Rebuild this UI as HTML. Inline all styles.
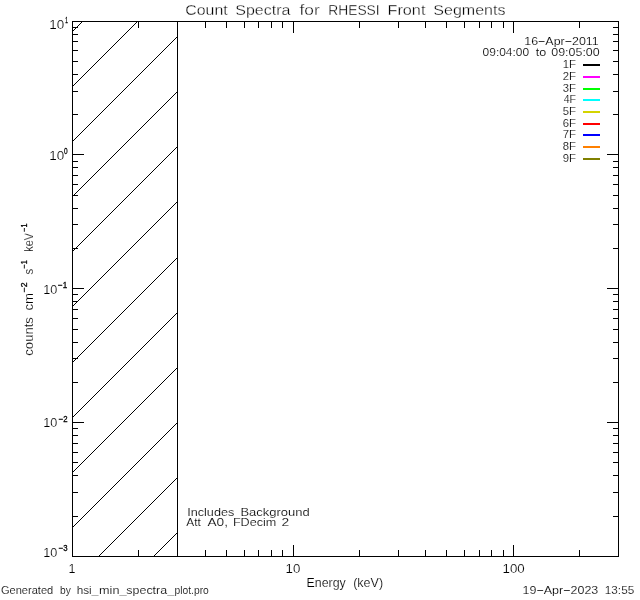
<!DOCTYPE html>
<html lang="en"><head><meta charset="utf-8"><title>Count Spectra for RHESSI Front Segments</title>
<style>
html,body{margin:0;padding:0;background:#fff;}
body{width:640px;height:600px;overflow:hidden;}
svg{display:block;}
text{font-family:"Liberation Sans","DejaVu Sans",sans-serif;fill:#000;white-space:pre;}
.t0{font-size:15.4px;}
.t1{font-size:12.6px;}
.t2{font-size:11.2px;}
.sup{font-size:8.4px;stroke:#000;stroke-width:0.3px;}
.t0{stroke:#fff;stroke-width:0.33px;}
.t1{stroke:#fff;stroke-width:0.18px;}
.t2{stroke:#fff;stroke-width:0.15px;}
.ln{stroke:#000;stroke-width:1;fill:none;shape-rendering:crispEdges;}
</style></head><body>
<svg width="640" height="600" viewBox="0 0 640 600">
<rect x="0" y="0" width="640" height="600" fill="#fff"/>
<path id="hatch" class="ln" d="M73 30.5h1m0 -1h1m0 -1h1m0 -1h1m0 -1h1m0 -1h1m0 -1h1m0 -1h1m0 -1h1M73 85.5h1m0 -1h1m0 -1h1m0 -1h1m0 -1h1m0 -1h1m0 -1h1m0 -1h1m0 -1h1m0 -1h1m0 -1h1m0 -1h1m0 -1h1m0 -1h1m0 -1h1m0 -1h1m0 -1h1m0 -1h1m0 -1h1m0 -1h1m0 -1h1m0 -1h1m0 -1h1m0 -1h1m0 -1h1m0 -1h1m0 -1h1m0 -1h1m0 -1h1m0 -1h1m0 -1h1m0 -1h1m0 -1h1m0 -1h1m0 -1h1m0 -1h1m0 -1h1m0 -1h1m0 -1h1m0 -1h1m0 -1h1m0 -1h1m0 -1h1m0 -1h1m0 -1h1m0 -1h1m0 -1h1m0 -1h1m0 -1h1m0 -1h1m0 -1h1m0 -1h1m0 -1h1m0 -1h1m0 -1h1m0 -1h1m0 -1h1m0 -1h1m0 -1h1m0 -1h1m0 -1h1m0 -1h1m0 -1h1m0 -1h1M73 140.5h1m0 -1h1m0 -1h1m0 -1h1m0 -1h1m0 -1h1m0 -1h1m0 -1h1m0 -1h1m0 -1h1m0 -1h1m0 -1h1m0 -1h1m0 -1h1m0 -1h1m0 -1h1m0 -1h1m0 -1h1m0 -1h1m0 -1h1m0 -1h1m0 -1h1m0 -1h1m0 -1h1m0 -1h1m0 -1h1m0 -1h1m0 -1h1m0 -1h1m0 -1h1m0 -1h1m0 -1h1m0 -1h1m0 -1h1m0 -1h1m0 -1h1m0 -1h1m0 -1h1m0 -1h1m0 -1h1m0 -1h1m0 -1h1m0 -1h1m0 -1h1m0 -1h1m0 -1h1m0 -1h1m0 -1h1m0 -1h1m0 -1h1m0 -1h1m0 -1h1m0 -1h1m0 -1h1m0 -1h1m0 -1h1m0 -1h1m0 -1h1m0 -1h1m0 -1h1m0 -1h1m0 -1h1m0 -1h1m0 -1h1m0 -1h1m0 -1h1m0 -1h1m0 -1h1m0 -1h1m0 -1h1m0 -1h1m0 -1h1m0 -1h1m0 -1h1m0 -1h1m0 -1h1m0 -1h1m0 -1h1m0 -1h1m0 -1h1m0 -1h1m0 -1h1m0 -1h1m0 -1h1m0 -1h1m0 -1h1m0 -1h1m0 -1h1m0 -1h1m0 -1h1m0 -1h1m0 -1h1m0 -1h1m0 -1h1m0 -1h1m0 -1h1m0 -1h1m0 -1h1m0 -1h1m0 -1h1m0 -1h1m0 -1h1m0 -1h1m0 -1h1M73 195.5h1m0 -1h1m0 -1h1m0 -1h1m0 -1h1m0 -1h1m0 -1h1m0 -1h1m0 -1h1m0 -1h1m0 -1h1m0 -1h1m0 -1h1m0 -1h1m0 -1h1m0 -1h1m0 -1h1m0 -1h1m0 -1h1m0 -1h1m0 -1h1m0 -1h1m0 -1h1m0 -1h1m0 -1h1m0 -1h1m0 -1h1m0 -1h1m0 -1h1m0 -1h1m0 -1h1m0 -1h1m0 -1h1m0 -1h1m0 -1h1m0 -1h1m0 -1h1m0 -1h1m0 -1h1m0 -1h1m0 -1h1m0 -1h1m0 -1h1m0 -1h1m0 -1h1m0 -1h1m0 -1h1m0 -1h1m0 -1h1m0 -1h1m0 -1h1m0 -1h1m0 -1h1m0 -1h1m0 -1h1m0 -1h1m0 -1h1m0 -1h1m0 -1h1m0 -1h1m0 -1h1m0 -1h1m0 -1h1m0 -1h1m0 -1h1m0 -1h1m0 -1h1m0 -1h1m0 -1h1m0 -1h1m0 -1h1m0 -1h1m0 -1h1m0 -1h1m0 -1h1m0 -1h1m0 -1h1m0 -1h1m0 -1h1m0 -1h1m0 -1h1m0 -1h1m0 -1h1m0 -1h1m0 -1h1m0 -1h1m0 -1h1m0 -1h1m0 -1h1m0 -1h1m0 -1h1m0 -1h1m0 -1h1m0 -1h1m0 -1h1m0 -1h1m0 -1h1m0 -1h1m0 -1h1m0 -1h1m0 -1h1m0 -1h1m0 -1h1m0 -1h1M73 250.5h1m0 -1h1m0 -1h1m0 -1h1m0 -1h1m0 -1h1m0 -1h1m0 -1h1m0 -1h1m0 -1h1m0 -1h1m0 -1h1m0 -1h1m0 -1h1m0 -1h1m0 -1h1m0 -1h1m0 -1h1m0 -1h1m0 -1h1m0 -1h1m0 -1h1m0 -1h1m0 -1h1m0 -1h1m0 -1h1m0 -1h1m0 -1h1m0 -1h1m0 -1h1m0 -1h1m0 -1h1m0 -1h1m0 -1h1m0 -1h1m0 -1h1m0 -1h1m0 -1h1m0 -1h1m0 -1h1m0 -1h1m0 -1h1m0 -1h1m0 -1h1m0 -1h1m0 -1h1m0 -1h1m0 -1h1m0 -1h1m0 -1h1m0 -1h1m0 -1h1m0 -1h1m0 -1h1m0 -1h1m0 -1h1m0 -1h1m0 -1h1m0 -1h1m0 -1h1m0 -1h1m0 -1h1m0 -1h1m0 -1h1m0 -1h1m0 -1h1m0 -1h1m0 -1h1m0 -1h1m0 -1h1m0 -1h1m0 -1h1m0 -1h1m0 -1h1m0 -1h1m0 -1h1m0 -1h1m0 -1h1m0 -1h1m0 -1h1m0 -1h1m0 -1h1m0 -1h1m0 -1h1m0 -1h1m0 -1h1m0 -1h1m0 -1h1m0 -1h1m0 -1h1m0 -1h1m0 -1h1m0 -1h1m0 -1h1m0 -1h1m0 -1h1m0 -1h1m0 -1h1m0 -1h1m0 -1h1m0 -1h1m0 -1h1m0 -1h1m0 -1h1M73 305.5h1m0 -1h1m0 -1h1m0 -1h1m0 -1h1m0 -1h1m0 -1h1m0 -1h1m0 -1h1m0 -1h1m0 -1h1m0 -1h1m0 -1h1m0 -1h1m0 -1h1m0 -1h1m0 -1h1m0 -1h1m0 -1h1m0 -1h1m0 -1h1m0 -1h1m0 -1h1m0 -1h1m0 -1h1m0 -1h1m0 -1h1m0 -1h1m0 -1h1m0 -1h1m0 -1h1m0 -1h1m0 -1h1m0 -1h1m0 -1h1m0 -1h1m0 -1h1m0 -1h1m0 -1h1m0 -1h1m0 -1h1m0 -1h1m0 -1h1m0 -1h1m0 -1h1m0 -1h1m0 -1h1m0 -1h1m0 -1h1m0 -1h1m0 -1h1m0 -1h1m0 -1h1m0 -1h1m0 -1h1m0 -1h1m0 -1h1m0 -1h1m0 -1h1m0 -1h1m0 -1h1m0 -1h1m0 -1h1m0 -1h1m0 -1h1m0 -1h1m0 -1h1m0 -1h1m0 -1h1m0 -1h1m0 -1h1m0 -1h1m0 -1h1m0 -1h1m0 -1h1m0 -1h1m0 -1h1m0 -1h1m0 -1h1m0 -1h1m0 -1h1m0 -1h1m0 -1h1m0 -1h1m0 -1h1m0 -1h1m0 -1h1m0 -1h1m0 -1h1m0 -1h1m0 -1h1m0 -1h1m0 -1h1m0 -1h1m0 -1h1m0 -1h1m0 -1h1m0 -1h1m0 -1h1m0 -1h1m0 -1h1m0 -1h1m0 -1h1m0 -1h1M73 361.5h1m0 -1h1m0 -1h1m0 -1h1m0 -1h1m0 -1h1m0 -1h1m0 -1h1m0 -1h1m0 -1h1m0 -1h1m0 -1h1m0 -1h1m0 -1h1m0 -1h1m0 -1h1m0 -1h1m0 -1h1m0 -1h1m0 -1h1m0 -1h1m0 -1h1m0 -1h1m0 -1h1m0 -1h1m0 -1h1m0 -1h1m0 -1h1m0 -1h1m0 -1h1m0 -1h1m0 -1h1m0 -1h1m0 -1h1m0 -1h1m0 -1h1m0 -1h1m0 -1h1m0 -1h1m0 -1h1m0 -1h1m0 -1h1m0 -1h1m0 -1h1m0 -1h1m0 -1h1m0 -1h1m0 -1h1m0 -1h1m0 -1h1m0 -1h1m0 -1h1m0 -1h1m0 -1h1m0 -1h1m0 -1h1m0 -1h1m0 -1h1m0 -1h1m0 -1h1m0 -1h1m0 -1h1m0 -1h1m0 -1h1m0 -1h1m0 -1h1m0 -1h1m0 -1h1m0 -1h1m0 -1h1m0 -1h1m0 -1h1m0 -1h1m0 -1h1m0 -1h1m0 -1h1m0 -1h1m0 -1h1m0 -1h1m0 -1h1m0 -1h1m0 -1h1m0 -1h1m0 -1h1m0 -1h1m0 -1h1m0 -1h1m0 -1h1m0 -1h1m0 -1h1m0 -1h1m0 -1h1m0 -1h1m0 -1h1m0 -1h1m0 -1h1m0 -1h1m0 -1h1m0 -1h1m0 -1h1m0 -1h1m0 -1h1m0 -1h1m0 -1h1M73 416.5h1m0 -1h1m0 -1h1m0 -1h1m0 -1h1m0 -1h1m0 -1h1m0 -1h1m0 -1h1m0 -1h1m0 -1h1m0 -1h1m0 -1h1m0 -1h1m0 -1h1m0 -1h1m0 -1h1m0 -1h1m0 -1h1m0 -1h1m0 -1h1m0 -1h1m0 -1h1m0 -1h1m0 -1h1m0 -1h1m0 -1h1m0 -1h1m0 -1h1m0 -1h1m0 -1h1m0 -1h1m0 -1h1m0 -1h1m0 -1h1m0 -1h1m0 -1h1m0 -1h1m0 -1h1m0 -1h1m0 -1h1m0 -1h1m0 -1h1m0 -1h1m0 -1h1m0 -1h1m0 -1h1m0 -1h1m0 -1h1m0 -1h1m0 -1h1m0 -1h1m0 -1h1m0 -1h1m0 -1h1m0 -1h1m0 -1h1m0 -1h1m0 -1h1m0 -1h1m0 -1h1m0 -1h1m0 -1h1m0 -1h1m0 -1h1m0 -1h1m0 -1h1m0 -1h1m0 -1h1m0 -1h1m0 -1h1m0 -1h1m0 -1h1m0 -1h1m0 -1h1m0 -1h1m0 -1h1m0 -1h1m0 -1h1m0 -1h1m0 -1h1m0 -1h1m0 -1h1m0 -1h1m0 -1h1m0 -1h1m0 -1h1m0 -1h1m0 -1h1m0 -1h1m0 -1h1m0 -1h1m0 -1h1m0 -1h1m0 -1h1m0 -1h1m0 -1h1m0 -1h1m0 -1h1m0 -1h1m0 -1h1m0 -1h1m0 -1h1m0 -1h1M73 471.5h1m0 -1h1m0 -1h1m0 -1h1m0 -1h1m0 -1h1m0 -1h1m0 -1h1m0 -1h1m0 -1h1m0 -1h1m0 -1h1m0 -1h1m0 -1h1m0 -1h1m0 -1h1m0 -1h1m0 -1h1m0 -1h1m0 -1h1m0 -1h1m0 -1h1m0 -1h1m0 -1h1m0 -1h1m0 -1h1m0 -1h1m0 -1h1m0 -1h1m0 -1h1m0 -1h1m0 -1h1m0 -1h1m0 -1h1m0 -1h1m0 -1h1m0 -1h1m0 -1h1m0 -1h1m0 -1h1m0 -1h1m0 -1h1m0 -1h1m0 -1h1m0 -1h1m0 -1h1m0 -1h1m0 -1h1m0 -1h1m0 -1h1m0 -1h1m0 -1h1m0 -1h1m0 -1h1m0 -1h1m0 -1h1m0 -1h1m0 -1h1m0 -1h1m0 -1h1m0 -1h1m0 -1h1m0 -1h1m0 -1h1m0 -1h1m0 -1h1m0 -1h1m0 -1h1m0 -1h1m0 -1h1m0 -1h1m0 -1h1m0 -1h1m0 -1h1m0 -1h1m0 -1h1m0 -1h1m0 -1h1m0 -1h1m0 -1h1m0 -1h1m0 -1h1m0 -1h1m0 -1h1m0 -1h1m0 -1h1m0 -1h1m0 -1h1m0 -1h1m0 -1h1m0 -1h1m0 -1h1m0 -1h1m0 -1h1m0 -1h1m0 -1h1m0 -1h1m0 -1h1m0 -1h1m0 -1h1m0 -1h1m0 -1h1m0 -1h1m0 -1h1M73 526.5h1m0 -1h1m0 -1h1m0 -1h1m0 -1h1m0 -1h1m0 -1h1m0 -1h1m0 -1h1m0 -1h1m0 -1h1m0 -1h1m0 -1h1m0 -1h1m0 -1h1m0 -1h1m0 -1h1m0 -1h1m0 -1h1m0 -1h1m0 -1h1m0 -1h1m0 -1h1m0 -1h1m0 -1h1m0 -1h1m0 -1h1m0 -1h1m0 -1h1m0 -1h1m0 -1h1m0 -1h1m0 -1h1m0 -1h1m0 -1h1m0 -1h1m0 -1h1m0 -1h1m0 -1h1m0 -1h1m0 -1h1m0 -1h1m0 -1h1m0 -1h1m0 -1h1m0 -1h1m0 -1h1m0 -1h1m0 -1h1m0 -1h1m0 -1h1m0 -1h1m0 -1h1m0 -1h1m0 -1h1m0 -1h1m0 -1h1m0 -1h1m0 -1h1m0 -1h1m0 -1h1m0 -1h1m0 -1h1m0 -1h1m0 -1h1m0 -1h1m0 -1h1m0 -1h1m0 -1h1m0 -1h1m0 -1h1m0 -1h1m0 -1h1m0 -1h1m0 -1h1m0 -1h1m0 -1h1m0 -1h1m0 -1h1m0 -1h1m0 -1h1m0 -1h1m0 -1h1m0 -1h1m0 -1h1m0 -1h1m0 -1h1m0 -1h1m0 -1h1m0 -1h1m0 -1h1m0 -1h1m0 -1h1m0 -1h1m0 -1h1m0 -1h1m0 -1h1m0 -1h1m0 -1h1m0 -1h1m0 -1h1m0 -1h1m0 -1h1m0 -1h1M99 555.5h1m0 -1h1m0 -1h1m0 -1h1m0 -1h1m0 -1h1m0 -1h1m0 -1h1m0 -1h1m0 -1h1m0 -1h1m0 -1h1m0 -1h1m0 -1h1m0 -1h1m0 -1h1m0 -1h1m0 -1h1m0 -1h1m0 -1h1m0 -1h1m0 -1h1m0 -1h1m0 -1h1m0 -1h1m0 -1h1m0 -1h1m0 -1h1m0 -1h1m0 -1h1m0 -1h1m0 -1h1m0 -1h1m0 -1h1m0 -1h1m0 -1h1m0 -1h1m0 -1h1m0 -1h1m0 -1h1m0 -1h1m0 -1h1m0 -1h1m0 -1h1m0 -1h1m0 -1h1m0 -1h1m0 -1h1m0 -1h1m0 -1h1m0 -1h1m0 -1h1m0 -1h1m0 -1h1m0 -1h1m0 -1h1m0 -1h1m0 -1h1m0 -1h1m0 -1h1m0 -1h1m0 -1h1m0 -1h1m0 -1h1m0 -1h1m0 -1h1m0 -1h1m0 -1h1m0 -1h1m0 -1h1m0 -1h1m0 -1h1m0 -1h1m0 -1h1m0 -1h1m0 -1h1m0 -1h1m0 -1h1M154 555.5h1m0 -1h1m0 -1h1m0 -1h1m0 -1h1m0 -1h1m0 -1h1m0 -1h1m0 -1h1m0 -1h1m0 -1h1m0 -1h1m0 -1h1m0 -1h1m0 -1h1m0 -1h1m0 -1h1m0 -1h1m0 -1h1m0 -1h1m0 -1h1m0 -1h1m0 -1h1"/>
<path id="axes" class="ln" d="M72.5 21.5H618.5V556.5H72.5ZM177.5 21.5V556.5M138.5 556V550M138.5 22V28M177.5 556V550M177.5 22V28M205.5 556V550M205.5 22V28M226.5 556V550M226.5 22V28M244.5 556V550M244.5 22V28M258.5 556V550M258.5 22V28M271.5 556V550M271.5 22V28M282.5 556V550M282.5 22V28M293.5 556V545M293.5 22V33M359.5 556V550M359.5 22V28M398.5 556V550M398.5 22V28M425.5 556V550M425.5 22V28M446.5 556V550M446.5 22V28M464.5 556V550M464.5 22V28M479.5 556V550M479.5 22V28M491.5 556V550M491.5 22V28M503.5 556V550M503.5 22V28M513.5 556V545M513.5 22V33M579.5 556V550M579.5 22V28M618.5 556V550M618.5 22V28M73 516.5H78M618 516.5H613M73 492.5H78M618 492.5H613M73 475.5H78M618 475.5H613M73 462.5H78M618 462.5H613M73 452.5H78M618 452.5H613M73 443.5H78M618 443.5H613M73 435.5H78M618 435.5H613M73 428.5H78M618 428.5H613M73 422.5H84M618 422.5H607M73 382.5H78M618 382.5H613M73 358.5H78M618 358.5H613M73 342.5H78M618 342.5H613M73 329.5H78M618 329.5H613M73 318.5H78M618 318.5H613M73 309.5H78M618 309.5H613M73 301.5H78M618 301.5H613M73 294.5H78M618 294.5H613M73 288.5H84M618 288.5H607M73 248.5H78M618 248.5H613M73 224.5H78M618 224.5H613M73 208.5H78M618 208.5H613M73 195.5H78M618 195.5H613M73 184.5H78M618 184.5H613M73 175.5H78M618 175.5H613M73 167.5H78M618 167.5H613M73 161.5H78M618 161.5H613M73 154.5H84M618 154.5H607M73 114.5H78M618 114.5H613M73 91.5H78M618 91.5H613M73 74.5H78M618 74.5H613M73 61.5H78M618 61.5H613M73 50.5H78M618 50.5H613M73 41.5H78M618 41.5H613M73 34.5H78M618 34.5H613M73 27.5H78M618 27.5H613"/>
<g id="txt" style="filter:grayscale(1)">
<text id="ti" class="t0"><tspan id="ti0" class="t0" x="185.30" y="15" textLength="42.40" lengthAdjust="spacingAndGlyphs">Count</tspan> <tspan id="ti1" class="t0" x="235.30" y="15" textLength="55.10" lengthAdjust="spacingAndGlyphs">Spectra</tspan> <tspan id="ti2" class="t0" x="299.50" y="15" textLength="20.20" lengthAdjust="spacingAndGlyphs">for</tspan> <tspan id="ti3" class="t0" x="328.30" y="15" textLength="51.30" lengthAdjust="spacingAndGlyphs">RHESSI</tspan> <tspan id="ti4" class="t0" x="387.50" y="15" textLength="37.90" lengthAdjust="spacingAndGlyphs">Front</tspan> <tspan id="ti5" class="t0" x="433.30" y="15" textLength="72.20" lengthAdjust="spacingAndGlyphs">Segments</tspan></text>
<text id="y1" class="t1"><tspan id="y1a" class="t1" x="49.30" y="29" textLength="14.90" lengthAdjust="spacingAndGlyphs">10</tspan><tspan id="y1b" class="sup" x="65.30" y="23" textLength="2.60" lengthAdjust="spacingAndGlyphs">1</tspan></text>
<text id="y0" class="t1"><tspan id="y0a" class="t1" x="49.30" y="160" textLength="14.90" lengthAdjust="spacingAndGlyphs">10</tspan><tspan id="y0b" class="sup" x="64.10" y="154" textLength="3.60" lengthAdjust="spacingAndGlyphs">0</tspan></text>
<text id="ym1" class="t1"><tspan id="ym1a" class="t1" x="43.30" y="294" textLength="14.10" lengthAdjust="spacingAndGlyphs">10</tspan><tspan id="ym1b" class="sup" x="58.10" y="288" textLength="9.20" lengthAdjust="spacingAndGlyphs">−1</tspan></text>
<text id="ym2" class="t1"><tspan id="ym2a" class="t1" x="43.30" y="427" textLength="14.10" lengthAdjust="spacingAndGlyphs">10</tspan><tspan id="ym2b" class="sup" x="58.80" y="422" textLength="8.90" lengthAdjust="spacingAndGlyphs">−2</tspan></text>
<text id="ym3" class="t1"><tspan id="ym3a" class="t1" x="43.30" y="557" textLength="14.10" lengthAdjust="spacingAndGlyphs">10</tspan><tspan id="ym3b" class="sup" x="58.80" y="551.3" textLength="8.90" lengthAdjust="spacingAndGlyphs">−3</tspan></text>
<text id="x1" class="t1" x="71.90" y="573" text-anchor="middle">1</text>
<text id="x10" class="t1" x="285.60" y="573" textLength="14.80" lengthAdjust="spacingAndGlyphs">10</text>
<text id="x100" class="t1" x="502.50" y="573" textLength="22.20" lengthAdjust="spacingAndGlyphs">100</text>
<text id="xt" class="t1"><tspan id="xt0" class="t1" x="306.50" y="587" textLength="39.20" lengthAdjust="spacingAndGlyphs">Energy</tspan> <tspan id="xt1" class="t1" x="353.20" y="587" textLength="29.90" lengthAdjust="spacingAndGlyphs">(keV)</tspan></text>
<text id="d1" aria-label="16-Apr-2011" class="t2" x="524.30" y="45" textLength="74.40" lengthAdjust="spacingAndGlyphs">16−Apr−2011</text>
<text id="d2" class="t2"><tspan id="d20" class="t2" x="482.60" y="56.3" textLength="46.50" lengthAdjust="spacingAndGlyphs">09:04:00</tspan> <tspan id="d21" class="t2" x="535.70" y="56.3" textLength="10.50" lengthAdjust="spacingAndGlyphs">to</tspan> <tspan id="d22" class="t2" x="551.30" y="56.3" textLength="48.40" lengthAdjust="spacingAndGlyphs">09:05:00</tspan></text>
<text id="l1" class="t2" x="562.80" y="68" textLength="13.20" lengthAdjust="spacingAndGlyphs">1F</text>
<text id="l2" class="t2" x="562.80" y="80" textLength="13.20" lengthAdjust="spacingAndGlyphs">2F</text>
<text id="l3" class="t2" x="562.80" y="91.7" textLength="13.20" lengthAdjust="spacingAndGlyphs">3F</text>
<text id="l4" class="t2" x="563.80" y="102.7" textLength="12.20" lengthAdjust="spacingAndGlyphs">4F</text>
<text id="l5" class="t2" x="562.80" y="115" textLength="13.20" lengthAdjust="spacingAndGlyphs">5F</text>
<text id="l6" class="t2" x="562.80" y="126.6" textLength="13.20" lengthAdjust="spacingAndGlyphs">6F</text>
<text id="l7" class="t2" x="562.80" y="138" textLength="13.20" lengthAdjust="spacingAndGlyphs">7F</text>
<text id="l8" class="t2" x="562.80" y="149.6" textLength="13.20" lengthAdjust="spacingAndGlyphs">8F</text>
<text id="l9" class="t2" x="562.80" y="161.5" textLength="13.20" lengthAdjust="spacingAndGlyphs">9F</text>
<text id="a1" class="t2"><tspan id="a10" class="t2" x="187.20" y="515.5" textLength="47.10" lengthAdjust="spacingAndGlyphs">Includes</tspan> <tspan id="a11" class="t2" x="240.40" y="515.5" textLength="69.40" lengthAdjust="spacingAndGlyphs">Background</tspan></text>
<text id="a2" class="t2"><tspan id="a20" class="t2" x="186.30" y="525.7" textLength="14.50" lengthAdjust="spacingAndGlyphs">Att</tspan> <tspan id="a21" class="t2" x="207.50" y="525.7" textLength="20.50" lengthAdjust="spacingAndGlyphs">A0,</tspan> <tspan id="a22" class="t2" x="232.90" y="525.7" textLength="43.40" lengthAdjust="spacingAndGlyphs">FDecim</tspan> <tspan id="a23" class="t2" x="281.40" y="525.7" textLength="7.70" lengthAdjust="spacingAndGlyphs">2</tspan></text>
<text id="gen" class="t2"><tspan id="gen0" class="t2" x="0.90" y="594" textLength="52.40" lengthAdjust="spacingAndGlyphs">Generated</tspan> <tspan id="gen1" class="t2" x="60.10" y="594" textLength="10.80" lengthAdjust="spacingAndGlyphs">by</tspan> <tspan id="gen2" class="t2" x="76.70" y="594" textLength="21.60" lengthAdjust="spacingAndGlyphs">hsi_</tspan><tspan id="gen3" class="t2" x="99.10" y="594" textLength="27.40" lengthAdjust="spacingAndGlyphs">min_</tspan><tspan id="gen4" class="t2" x="126.30" y="594" textLength="47.80" lengthAdjust="spacingAndGlyphs">spectra_</tspan><tspan id="gen5" class="t2" x="174.50" y="594" textLength="34.30" lengthAdjust="spacingAndGlyphs">plot.pro</tspan></text>
<text id="date" aria-label="19-Apr-2023 13:55" class="t2"><tspan id="date0" class="t2" x="522.50" y="594" textLength="75.80" lengthAdjust="spacingAndGlyphs">19−Apr−2023</tspan> <tspan id="date1" class="t2" x="604.80" y="594" textLength="29.40" lengthAdjust="spacingAndGlyphs">13:55</tspan></text>
<g id="ytg" transform="translate(33,356.5) rotate(-90)"><text id="yt" class="t1"><tspan id="yt1" class="t1" x="0.80" y="0" textLength="38.60" lengthAdjust="spacingAndGlyphs">counts</tspan> <tspan id="yt2" class="t1" x="45.90" y="0" textLength="17.60" lengthAdjust="spacingAndGlyphs">cm</tspan><tspan id="yt3" class="sup" x="64.20" y="-6" textLength="9.90" lengthAdjust="spacingAndGlyphs">−2</tspan> <tspan id="yt4" class="t1" x="81.90" y="0" textLength="5.70" lengthAdjust="spacingAndGlyphs">s</tspan><tspan id="yt5" class="sup" x="87.90" y="-6" textLength="8.30" lengthAdjust="spacingAndGlyphs">−1</tspan> <tspan id="yt6" class="t1" x="104.80" y="0" textLength="18.80" lengthAdjust="spacingAndGlyphs">keV</tspan><tspan id="yt7" class="sup" x="124.80" y="-6" textLength="8.20" lengthAdjust="spacingAndGlyphs">−1</tspan></text></g>
</g>
<g id="leg" shape-rendering="crispEdges">
<rect x="583" y="64" width="17" height="2" fill="#000000"/>
<rect x="583" y="76" width="17" height="2" fill="#ff00ff"/>
<rect x="583" y="88" width="17" height="2" fill="#00ff00"/>
<rect x="583" y="99" width="17" height="2" fill="#00ffff"/>
<rect x="583" y="111" width="17" height="2" fill="#d4d400"/>
<rect x="583" y="123" width="17" height="2" fill="#ff0000"/>
<rect x="583" y="134" width="17" height="2" fill="#0000ff"/>
<rect x="583" y="146" width="17" height="2" fill="#ff8000"/>
<rect x="583" y="158" width="17" height="2" fill="#808000"/>
</g>
</svg></body></html>
